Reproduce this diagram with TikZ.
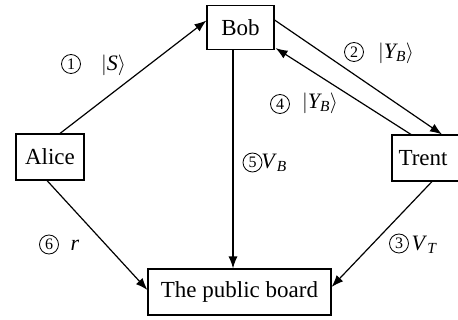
\documentclass[tikz,border=0pt]{standalone}
\usepackage{amsmath}
\usepackage{fontspec}
\setmainfont{Liberation Serif}
\usetikzlibrary{arrows.meta,calc}
\begin{document}
\begin{tikzpicture}[x=1pt,y=-1pt,
  box/.style={draw,line width=1.1pt,inner sep=0pt,font=\fontsize{23}{23}\selectfont},
  arr/.style={line width=1.2pt,-{Latex[length=12pt,width=9pt]}},
  cnum/.style={circle,draw,line width=0.8pt,inner sep=0pt,minimum size=19pt,font=\fontsize{16}{16}\selectfont},
  lab/.style={inner sep=0pt,font=\fontsize{22}{22}\selectfont}]
\useasboundingbox (0,0) rectangle (458,320);
\node[box,minimum width=67pt,minimum height=44pt] (bob) at (240.5,27.5) {Bob};
\node[box,minimum width=68pt,minimum height=46pt] (alice) at (50,157) {Alice};
\node[box,minimum width=70pt,minimum height=46pt] (trent) at (427,158) {\hspace*{-8pt}Trent};
\node[box,minimum width=183pt,minimum height=46pt] (board) at (239.5,292) {The public board};
% arrows
\draw[arr] ($(alice.north)+(10,0)$) -- ($(bob.west)+(0,-7)$);
\draw[arr] ($(bob.east)+(0,-7.5)$) -- ($(trent.north)+(15,0)$);
\draw[arr] ($(trent.north)+(-16,0)$) -- ($(bob.south east)+(1,-2)$);
\draw[arr] ($(bob.south)+(-7.5,0)$) coordinate (b5) -- (b5 |- board.north);
\draw[arr] ($(trent.south)+(5,0)$) -- ($(board.east)+(0,-5)$);
\draw[arr] ($(alice.south)+(-3,0)$) -- ($(board.west)+(0,-2)$);
% labels
\node[cnum] (c1) at (71,64) {1};
\node[lab] (l1) at (113.5,65) {$|$\textit{S}$\rangle$};
\node[cnum] (c2) at (354,52) {2};
\node[lab] (l2) at (396,53) {$\left|\textit{Y}_{\textit{B}}\right\rangle$};
\node[cnum] (c4) at (280,104) {4};
\node[lab] (l4) at (320,103) {$\left|\textit{Y}_{\textit{B}}\right\rangle$};
\node[cnum] (c5) at (252.5,162.5) {5};
\node[lab] (l5) at (274,163) {\textit{V}$_{\textit{B}}$};
\node[cnum] (c3) at (399,243.5) {3};
\node[lab] (l3) at (424,245) {\textit{V}$_{\textit{T}}$};
\node[cnum] (c6) at (49,244.5) {6};
\node[lab] (l6) at (75,245) {\textit{r}};
\end{tikzpicture}
\end{document}
